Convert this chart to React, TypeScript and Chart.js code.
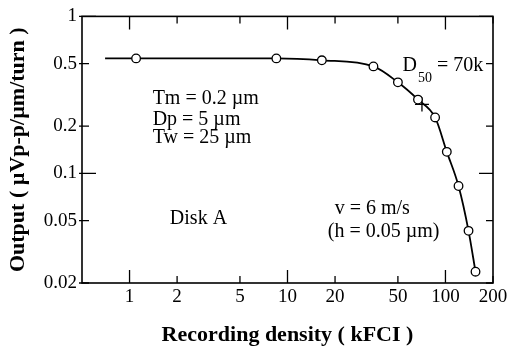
import React, { useEffect, useRef } from "react";
import { Chart, registerables } from "chart.js";

Chart.register(...registerables);

// Measured points (kFCI, µVp-p/µm/turn)
const densityKFCI = [1.1, 8.5, 16.5, 35, 50, 67, 86, 102, 121, 140, 155];
const outputVpp = [0.54, 0.54, 0.525, 0.48, 0.38, 0.295, 0.227, 0.137, 0.083, 0.043, 0.0236];

// Fitted curve (starts left of the first marker)
const curveX = [0.7, ...densityKFCI];
const curveY = [0.54, ...outputVpp];

// D50 marker
const d50X = [71];
const d50Y = [0.275];

// Axis ticks
const xTicks = [1, 2, 5, 10, 20, 50, 100, 200];
const yTicks = [0.02, 0.05, 0.1, 0.2, 0.5, 1];
const xMajor = [1, 10, 100];
const yMajor = [0.1, 1];

// Annotations (anchored in data coordinates, left aligned)
const noteTexts = ["Tm = 0.2 µm", "Dp = 5 µm", "Tw = 25 µm", "Disk A", "v = 6 m/s", "(h = 0.05 µm)"];
const noteX = [1.4, 1.4, 1.4, 1.8, 19.9, 18];
const noteY = [0.298, 0.219, 0.168, 0.0516, 0.0597, 0.0427];

const SERIF = "'Liberation Serif', 'Times New Roman', serif";

const framePlugin = {
  id: "frameTicks",
  afterDatasetsDraw(chart: any) {
    const { ctx, chartArea, scales } = chart;
    const { left, right, top, bottom } = chartArea;
    const xs = scales.x;
    const ys = scales.y;
    ctx.save();
    ctx.strokeStyle = "#000";
    ctx.lineWidth = 1.6;
    ctx.strokeRect(left, top, right - left, bottom - top);
    ctx.lineWidth = 1.3;
    ctx.beginPath();
    xTicks.forEach((v) => {
      const px = xs.getPixelForValue(v);
      const len = xMajor.includes(v) ? 13 : 7;
      ctx.moveTo(px, bottom);
      ctx.lineTo(px, bottom - len);
      ctx.moveTo(px, top);
      ctx.lineTo(px, top + len);
    });
    yTicks.forEach((v) => {
      const py = ys.getPixelForValue(v);
      const len = yMajor.includes(v) ? 14 : 7;
      ctx.moveTo(left - 3, py);
      ctx.lineTo(left + len, py);
      ctx.moveTo(right, py);
      ctx.lineTo(right - len, py);
    });
    ctx.stroke();

    // annotations
    ctx.fillStyle = "#000";
    ctx.textBaseline = "middle";
    ctx.textAlign = "left";
    ctx.font = `20px ${SERIF}`;
    noteTexts.forEach((t, i) => {
      ctx.fillText(t, xs.getPixelForValue(noteX[i]), ys.getPixelForValue(noteY[i]));
    });
    // D50 label
    let dx = xs.getPixelForValue(53.5);
    const dy = ys.getPixelForValue(0.482);
    ctx.font = `20px ${SERIF}`;
    ctx.fillText("D", dx, dy);
    dx += ctx.measureText("D").width + 1;
    ctx.font = `14px ${SERIF}`;
    ctx.fillText("50", dx, dy + 12);
    dx += ctx.measureText("50").width;
    ctx.font = `20px ${SERIF}`;
    ctx.fillText(" = 70k", dx, dy);
    ctx.restore();
  },
};

export default function App() {
  const canvasRef = useRef<HTMLCanvasElement | null>(null);

  useEffect(() => {
    document.body.style.margin = "0";
    const canvas = canvasRef.current;
    if (!canvas) return;
    const chart = new Chart(canvas, {
      type: "scatter",
      data: {
        datasets: [
          {
            type: "line",
            data: curveX.map((x, i) => ({ x, y: curveY[i] })),
            borderColor: "#000",
            borderWidth: 1.8,
            pointRadius: 0,
            fill: false,
            cubicInterpolationMode: "monotone",
            order: 3,
          } as any,
          {
            type: "scatter",
            data: densityKFCI.map((x, i) => ({ x, y: outputVpp[i] })),
            pointStyle: "circle",
            pointRadius: 4.3,
            pointBackgroundColor: "#fff",
            pointBorderColor: "#000",
            pointBorderWidth: 1.3,
            order: 1,
          },
          {
            type: "scatter",
            data: d50X.map((x, i) => ({ x, y: d50Y[i] })),
            pointStyle: "cross",
            pointRadius: 7,
            pointBorderColor: "#000",
            pointBorderWidth: 1.3,
            order: 2,
          },
        ],
      },
      options: {
        animation: false,
        responsive: true,
        maintainAspectRatio: false,
        devicePixelRatio: 1,
        layout: { padding: { left: 0, top: 15, right: 14, bottom: 0 } },
        plugins: { legend: { display: false }, tooltip: { enabled: false } },
        scales: {
          x: {
            type: "logarithmic",
            min: 0.5,
            max: 200,
            afterBuildTicks: (scale: any) => {
              scale.ticks = xTicks.map((v) => ({ value: v }));
            },
            afterFit: (scale: any) => {
              scale.height = 72;
              scale.paddingRight = 0;
              scale.paddingLeft = 0;
            },
            grid: { display: false, drawTicks: false },
            border: { display: false },
            ticks: {
              autoSkip: false,
              maxRotation: 0,
              padding: 3,
              color: "#000",
              font: { family: SERIF, size: 19 },
              callback: (v: any) => String(v),
            },
            title: {
              display: true,
              text: "Recording density ( kFCI )",
              color: "#000",
              font: { family: SERIF, size: 22, weight: "bold" },
              padding: { top: 0, bottom: 6 },
            },
          },
          y: {
            type: "logarithmic",
            min: 0.02,
            max: 1,
            afterBuildTicks: (scale: any) => {
              scale.ticks = yTicks.map((v) => ({ value: v }));
            },
            afterFit: (scale: any) => {
              scale.width = 82;
            },
            grid: { display: false, drawTicks: false },
            border: { display: false },
            ticks: {
              autoSkip: false,
              padding: 5,
              color: "#000",
              font: { family: SERIF, size: 19 },
              callback: (v: any) => String(v),
            },
            title: {
              display: true,
              text: "Output ( µVp-p/µm/turn )",
              color: "#000",
              font: { family: SERIF, size: 22, weight: "bold" },
              padding: { top: 5, bottom: 0 },
            },
          },
        },
      },
      plugins: [framePlugin],
    });
    return () => chart.destroy();
  }, []);

  return (
    <div style={{ position: "relative", width: 507, height: 355, background: "#fff" }}>
      <canvas ref={canvasRef} />
    </div>
  );
}
